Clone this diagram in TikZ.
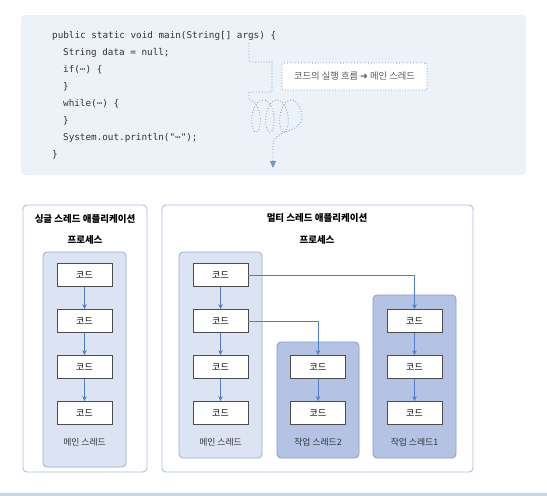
\documentclass[tikz,border=0pt]{standalone}
\usepackage{fontspec}
\setmainfont{Noto Sans CJK KR}
\setmonofont{DejaVu Sans Mono}
\newfontfamily\dejavu{DejaVu Sans}
\usetikzlibrary{arrows.meta}
\definecolor{panelbg}{HTML}{EDF1F8}
\definecolor{appline}{HTML}{A9BEE0}
\definecolor{mainfill}{HTML}{DCE3F3}
\definecolor{mainline}{HTML}{97AFDB}
\definecolor{workfill}{HTML}{B4C3E4}
\definecolor{workline}{HTML}{809DD2}
\definecolor{arrowcol}{HTML}{4D7FCC}
\definecolor{flowcol}{HTML}{6F96D2}
\definecolor{codetext}{HTML}{333333}
\definecolor{barcol}{HTML}{C9D7EC}
\tikzset{
  codeline/.style={anchor=west, inner sep=0pt, text=codetext, font=\fontsize{9.3}{11}\selectfont\ttfamily},
  appbox/.style={draw=appline, line width=0.9pt, fill=white, rounded corners=4pt, inner sep=0pt},
  mainbox/.style={draw=mainline, line width=0.8pt, fill=mainfill, rounded corners=4pt, inner sep=0pt},
  workbox/.style={draw=workline, line width=0.8pt, fill=workfill, rounded corners=4pt, inner sep=0pt},
  codebox/.style={draw=black!70, line width=0.8pt, fill=white, minimum width=55pt, minimum height=23pt, inner sep=0pt, font=\fontsize{9}{10}\selectfont},
  titletxt/.style={font=\fontsize{9.5}{11}\selectfont\bfseries, inner sep=0pt},
  labtxt/.style={font=\fontsize{8.8}{10}\selectfont, text=codetext, inner sep=0pt},
  conn/.style={draw=arrowcol, line width=0.8pt, -{Stealth[length=5pt,width=4.5pt]}},
  flow/.style={draw=flowcol, line width=0.8pt, dotted}
}
\begin{document}
\begin{tikzpicture}[x=1pt,y=-1pt]
\useasboundingbox (0,0) rectangle (547,496);
\fill[white] (0,0) rectangle (547,496);
% top panel
\fill[panelbg, rounded corners=4pt] (21,15) rectangle (526,175);
\node[codeline] (l1) at (52,36) {public static void main(String[] args) \{};
\node[codeline] (l2) at (63,53) {String data = null;};
\node[codeline] (l3) at (63,70) {if(⋯) \{};
\node[codeline] (l4) at (63,87) {\}};
\node[codeline] (l5) at (63,104) {while(⋯) \{};
\node[codeline] (l6) at (63,121) {\}};
\node[codeline] (l7) at (63,138) {System.out.println("⋯");};
\node[codeline] (l8) at (52,155) {\}};
% flow
\coordinate (fs) at (249,43);
\coordinate (fe) at (273,168);
\draw[flow, -{Triangle[length=7pt,width=6pt]}] (fs) -- (249,62) -- (272,62) -- (272,92) -- (249,92) -- (249,100)
  -- plot[domain=0:6.5*pi, samples=160, smooth, variable=\t] ({249+7.5*sin(\t r)+14*\t/(2*pi)}, {116-16*cos(\t r)})
  .. controls (302,135) and (273,128) .. (273,145) -- (fe);
\node[draw=flowcol, dotted, line width=0.8pt, fill=white, rounded corners=2pt, minimum width=145pt, minimum height=27pt, inner sep=0pt,
  text=black!65, font=\fontsize{9.3}{11}\selectfont] (lab) at (354.5,76.5) {코드의 실행 흐름 {\dejavu ➜} 메인 스레드};
% single thread app
\node[appbox, minimum width=124pt, minimum height=267pt] (sapp) at (85,338.5) {};
\node[titletxt] (stitle) at (85,219) {싱글 스레드 애플리케이션};
\node[titletxt] (sproc) at (85,240) {프로세스};
\node[mainbox, minimum width=83pt, minimum height=215pt] (smain) at (84.5,359.5) {};
\node[codebox] (s1) at (84.5,275) {코드};
\node[codebox] (s2) at (84.5,321) {코드};
\node[codebox] (s3) at (84.5,367) {코드};
\node[codebox] (s4) at (84.5,413) {코드};
\node[labtxt] (slab) at (84.5,442) {메인 스레드};
\draw[conn] (s1) -- (s2);
\draw[conn] (s2) -- (s3);
\draw[conn] (s3) -- (s4);
% multi thread app
\node[appbox, minimum width=311pt, minimum height=267pt] (mapp) at (317.5,338.5) {};
\node[titletxt] (mtitle) at (317,218) {멀티 스레드 애플리케이션};
\node[titletxt] (mproc) at (317,240) {프로세스};
\node[mainbox, minimum width=83pt, minimum height=206pt] (mmain) at (220.5,355) {};
\node[workbox, minimum width=82pt, minimum height=116pt] (w2box) at (318,400) {};
\node[workbox, minimum width=83pt, minimum height=163pt] (w1box) at (414.5,376.5) {};
\node[codebox] (m1) at (220.5,275) {코드};
\node[codebox] (m2) at (220.5,321) {코드};
\node[codebox] (m3) at (220.5,367) {코드};
\node[codebox] (m4) at (220.5,413) {코드};
\node[labtxt] (mlab) at (220.5,442) {메인 스레드};
\node[codebox] (b1) at (318,367) {코드};
\node[codebox] (b2) at (318,413) {코드};
\node[labtxt] (blab) at (318,442) {작업 스레드2};
\node[codebox] (a1) at (414.5,321) {코드};
\node[codebox] (a2) at (414.5,367) {코드};
\node[codebox] (a3) at (414.5,413) {코드};
\node[labtxt] (alab) at (414.5,442) {작업 스레드1};
\draw[conn] (m1) -- (m2);
\draw[conn] (m2) -- (m3);
\draw[conn] (m3) -- (m4);
\draw[conn] (b1) -- (b2);
\draw[conn] (a1) -- (a2);
\draw[conn] (a2) -- (a3);
\draw[conn] (m1.east) -| (a1.north);
\draw[conn] (m2.east) -| (b1.north);
% bottom bar
\fill[barcol] (0,493) rectangle (547,496);
\end{tikzpicture}
\end{document}
